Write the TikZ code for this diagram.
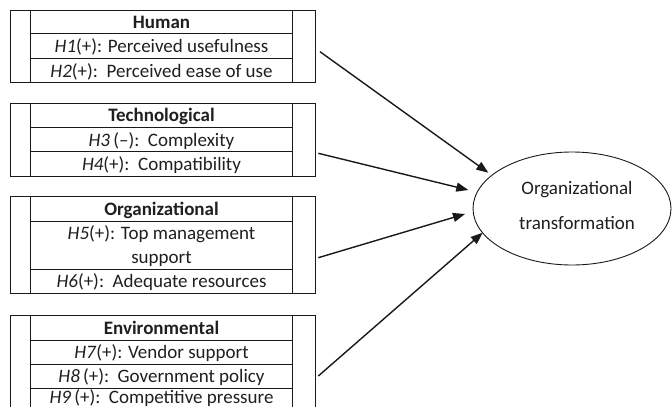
\documentclass[tikz,border=0pt]{standalone}
\usepackage{fontspec}
\setmainfont{Carlito}
\usetikzlibrary{arrows.meta,shapes.geometric}
\begin{document}
\begin{tikzpicture}[x=1pt,y=-1pt,
  frame/.style={line width=0.9pt, draw=black!90},
  rowtext/.style={font=\fontsize{19}{25}\selectfont, inner sep=0pt, anchor=base, text=black!88},
  titletext/.style={rowtext, font=\fontsize{19}{25}\selectfont\bfseries},
  conn/.style={line width=1.4pt, draw=black!90, -{Triangle[length=12pt,width=9pt]}}]
\useasboundingbox (0,0) rectangle (672,407);

% ---------- Human ----------
\draw[frame] (10,10) rectangle (315,82.7);
\draw[frame] (30.3,10) -- (30.3,82.7) (292.7,10) -- (292.7,82.7);
\draw[frame] (30.3,33.3) -- (292.7,33.3) (30.3,58.3) -- (292.7,58.3);
\node[titletext] (hum) at (161.5,28.2) {Human};
\node[rowtext] (h1) at (161.5,52.3) {\textit{H1}(+): Perceived usefulness};
\node[rowtext] (h2) at (161.5,77.0) {\textit{H2}(+):\ \ Perceived ease of use};

% ---------- Technological ----------
\draw[frame] (10,103) rectangle (315,176);
\draw[frame] (30.3,103) -- (30.3,176) (292.7,103) -- (292.7,176);
\draw[frame] (30.3,127.3) -- (292.7,127.3) (30.3,151.7) -- (292.7,151.7);
\node[titletext] (tec) at (161.5,121.6) {Technological};
\node[rowtext] (h3) at (161.5,146.0) {\textit{H3}\,(–):\ \ Complexity};
\node[rowtext] (h4) at (161.5,170.3) {\textit{H4}(+):\ \ Compatibility};

% ---------- Organizational ----------
\draw[frame] (10,196.5) rectangle (315,293.3);
\draw[frame] (30.3,196.5) -- (30.3,293.3) (292.7,196.5) -- (292.7,293.3);
\draw[frame] (30.3,221.7) -- (292.7,221.7) (30.3,269) -- (292.7,269);
\node[titletext] (org) at (161.5,215.6) {Organizational};
\node[rowtext] (h5a) at (161.5,239.5) {\textit{H5}(+): Top management};
\node[rowtext] (h5b) at (161.5,263.5) {support};
\node[rowtext] (h6) at (161.5,287.6) {\textit{H6}(+):\ \ Adequate resources};

% ---------- Environmental ----------
\draw[frame] (10,407) -- (10,315) -- (315,315) -- (315,407);
\draw[frame] (30.3,315) -- (30.3,407) (292.7,315) -- (292.7,407);
\draw[frame] (30.3,340) -- (292.7,340) (30.3,364.3) -- (292.7,364.3) (30.3,388.3) -- (292.7,388.3);
\node[titletext] (env) at (161.5,334.0) {Environmental};
\node[rowtext] (h7) at (161.5,358.6) {\textit{H7}(+): Vendor support};
\node[rowtext] (h8) at (161.5,382.8) {\textit{H8}\,(+):\ \ Government policy};
\node[rowtext] (h9) at (161.5,403.3) {\textit{H9}\,(+):\ \ Competitive pressure};

% ---------- Outcome ----------
\node[draw=black!90, line width=0.9pt, ellipse, minimum width=198pt, minimum height=113pt, inner sep=0pt] (ot) at (572,208.5) {};
\node[font=\fontsize{19}{35}\selectfont, text=black!88, align=center, inner sep=0pt] (otl) at (577,205.2) {Organizational\\transformation};

% ---------- Connectors ----------
\coordinate (s1) at (320,51.7);
\coordinate (s2) at (318.3,153.3);
\coordinate (s3) at (318.3,257.7);
\coordinate (s4) at (318.3,376);
\coordinate (t1) at (488.3,172.7);
\coordinate (t2) at (468.3,190);
\coordinate (t3) at (465,214);
\coordinate (t4) at (482.7,232.7);
\draw[conn] (s1) -- (t1);
\draw[conn] (s2) -- (t2);
\draw[conn] (s3) -- (t3);
\draw[conn] (s4) -- (t4);
\end{tikzpicture}
\end{document}
